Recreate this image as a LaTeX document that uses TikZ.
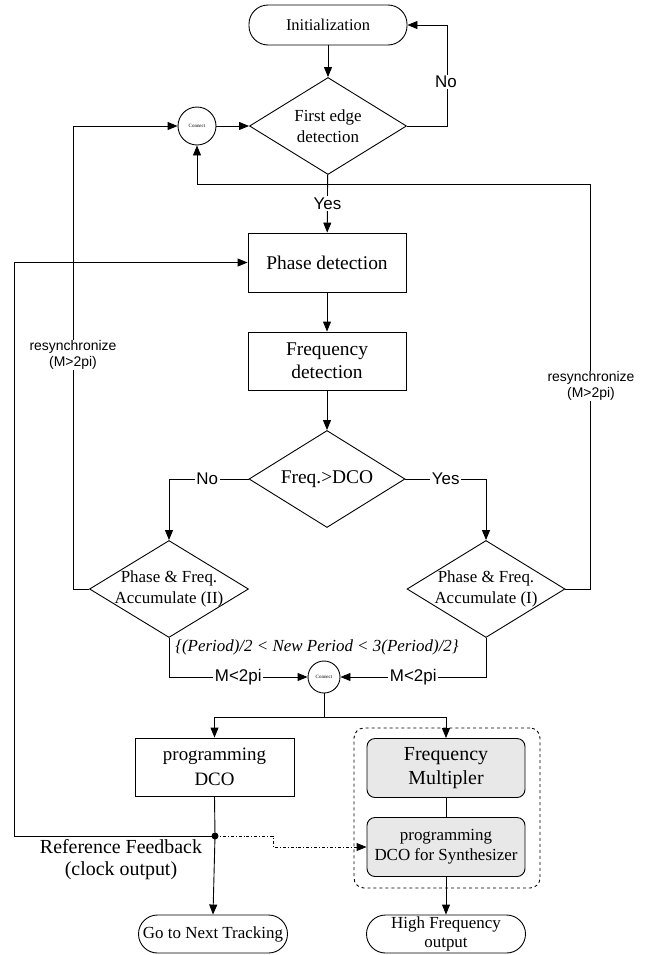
\documentclass[tikz,border=0pt]{standalone}
\usepackage{fontspec}
\setmainfont{Liberation Serif}
\setsansfont{Liberation Sans}
\usetikzlibrary{shapes.geometric,arrows.meta}
\begin{document}
\begin{tikzpicture}[x=1bp,y=-1bp, line width=0.9bp,
  >={Triangle[length=10bp,width=8bp]},
  box/.style={draw, rectangle, minimum width=158bp, align=center, inner sep=0},
  term/.style={draw, rectangle, rounded corners=19bp, align=center, inner sep=0},
  dia/.style={draw, diamond, inner sep=0, minimum width=157bp, minimum height=97bp},
  conn/.style={draw, circle, inner sep=0, font=\fontsize{5}{6}\selectfont},
  lab/.style={font=\sffamily\fontsize{17}{19}\selectfont, fill=white, inner sep=1.5bp},
  resync/.style={font=\sffamily\fontsize{14}{16}\selectfont, fill=white, inner sep=1bp, align=center},
  shadedbox/.style={draw, rectangle, rounded corners=8bp, fill=gray!18, align=center, inner sep=0, minimum width=158bp, minimum height=59bp},
]
\useasboundingbox (0,0) rectangle (646,955);

% nodes
\node[term, minimum width=158bp, minimum height=40bp, font=\fontsize{16.5}{19}\selectfont] (init) at (328,25) {Initialization};
\node[dia, label={[align=center,font=\fontsize{17}{21}\selectfont]center:First edge\\detection}] (d1) at (328,126) {};
\node[conn, minimum size=38bp] (c1) at (197,126) {Connect};
\node[box, minimum height=59bp, font=\fontsize{19.5}{23}\selectfont] (pd) at (327,262.5) {Phase detection};
\node[box, minimum height=58bp, font=\fontsize{19.5}{23}\selectfont] (fd) at (327,361) {Frequency\\detection};
\node[dia, minimum width=156bp, label={[font=\fontsize{19.5}{22}\selectfont]center:Freq.>DCO}] (d2) at (327,479) {};
\node[dia, minimum width=159bp, label={[align=center,font=\fontsize{17}{21}\selectfont]center:Phase \& Freq.\\Accumulate (II)}] (a2) at (169,589) {};
\node[dia, minimum width=158bp, label={[align=center,font=\fontsize{17}{21}\selectfont]center:Phase \& Freq.\\Accumulate (I)}] (a1) at (486,589) {};
\node[font=\itshape\fontsize{17}{20}\selectfont] (cond) at (317,647) {\{(Period)/2 < New Period < 3(Period)/2\}};
\node[conn, minimum size=32bp] (c2) at (324,677) {Connect};
\coordinate (split) at (324,717);
\node[box, minimum width=159bp, minimum height=58bp, font=\fontsize{19}{25}\selectfont] (pdco) at (214.5,767) {programming\\DCO};
\node[draw, dashed, rounded corners=10bp, minimum width=186bp, minimum height=160bp] (grp) at (447,808) {};
\node[shadedbox, font=\fontsize{20}{24}\selectfont] (fm) at (446,768) {Frequency\\Multipler};
\node[shadedbox, font=\fontsize{17}{20}\selectfont] (syn) at (446,847) {programming\\DCO for Synthesizer};
\coordinate (dot) at (215,836);
\node[align=center, font=\fontsize{20}{22}\selectfont] (ref) at (121,860) {Reference Feedback\\(clock output)};
\node[term, minimum width=149bp, minimum height=38bp, font=\fontsize{17}{19}\selectfont] (next) at (213,934) {Go to Next Tracking};
\node[term, minimum width=159bp, minimum height=38bp, font=\fontsize{17}{19}\selectfont] (hfo) at (446,934) {High Frequency\\output};

% connectors
\draw[->] (init) -- (d1);
\draw[->] (d1.east) -- ++(40,0) |- (init.east);
\node[lab] (nolab1) at (446,82) {No};
\draw[->] (c1) -- (d1);
\draw[->] (d1) -- node[lab] (yeslab1) {Yes} (pd);
\draw[->] (pd) -- (fd);
\draw[->] (fd) -- (d2);
\draw[->] (d2.west) -| node[lab, pos=0.26] (nolab2) {No} (a2.north);
\draw[->] (d2.east) -| node[lab, pos=0.25] (yeslab2) {Yes} (a1.north);
\draw[->] (a2.west) -- (73,589) -- (73,126) -- (c1.west);
\node[resync] (rs1) at (73,355) {resynchronize\\(M>2pi)};
\draw[->] (a1.east) -- (590,589) -- (590,184) -| (c1.south);
\node[resync] (rs2) at (591,386) {resynchronize\\(M>2pi)};
\draw[->] (a2.south) |- node[lab, pos=0.75] (m1) {M<2pi} (c2.west);
\draw[->] (a1.south) |- node[lab, pos=0.75] (m2) {M<2pi} (c2.east);
\draw (c2.south) -- (split);
\draw[->] (split) -| (pdco.north);
\draw[->] (split) -| (fm.north);
\draw (pdco.south) -- (dot);
\draw[->] (dot) -- (next.north);
\draw[->] (dot) -- (14,836) |- (pd.west);
\draw[->, dash dot] (dot) -- (273,836) -- (273,847) -- (syn.west);
\draw (fm) -- (syn);
\draw[->] (syn) -- (hfo);
\fill (dot) circle (3.5bp);
\end{tikzpicture}
\end{document}
